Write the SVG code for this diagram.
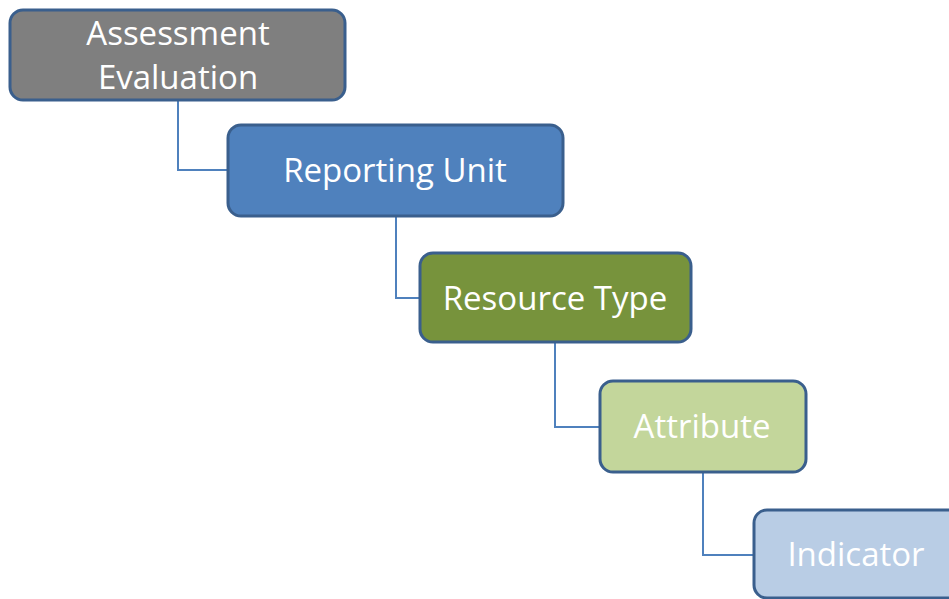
<svg xmlns="http://www.w3.org/2000/svg" width="949" height="599" viewBox="0 0 949 599">
<style>
.box{stroke:#3a5f8d;stroke-width:3}
.lbl{font-family:"Open Sans","Noto Sans",sans-serif;font-size:33px;fill:#ffffff;text-anchor:middle;dominant-baseline:central}
.conn{fill:none;stroke:#4f81bd;stroke-width:2}
</style>
<rect width="949" height="599" fill="#ffffff"/>
<g id="connectors">
<path class="conn" d="M178,100 V170 H228"/>
<path class="conn" d="M396,216 V298 H419"/>
<path class="conn" d="M555,342 V427 H599"/>
<path class="conn" d="M703,472 V555 H753"/>
</g>
<g id="node-assessment">
<rect class="box" x="10" y="10" width="335" height="90" rx="13" fill="#7f7f7f"/>
<text class="lbl" x="178" y="32">Assessment</text>
<text class="lbl" x="178" y="76">Evaluation</text>
</g>
<g id="node-reporting">
<rect class="box" x="228" y="125" width="335" height="91" rx="13" fill="#4f81bd"/>
<text class="lbl" x="395" y="169">Reporting Unit</text>
</g>
<g id="node-resource">
<rect class="box" x="420" y="253" width="271" height="89" rx="13" fill="#77933c"/>
<text class="lbl" x="555" y="297">Resource Type</text>
</g>
<g id="node-attribute">
<rect class="box" x="600" y="381" width="206" height="91" rx="13" fill="#c3d69b"/>
<text class="lbl" x="702" y="425">Attribute</text>
</g>
<g id="node-indicator">
<rect class="box" x="754" y="510" width="210" height="88" rx="13" fill="#b9cde5"/>
<text class="lbl" x="856" y="553">Indicator</text>
</g>
</svg>
